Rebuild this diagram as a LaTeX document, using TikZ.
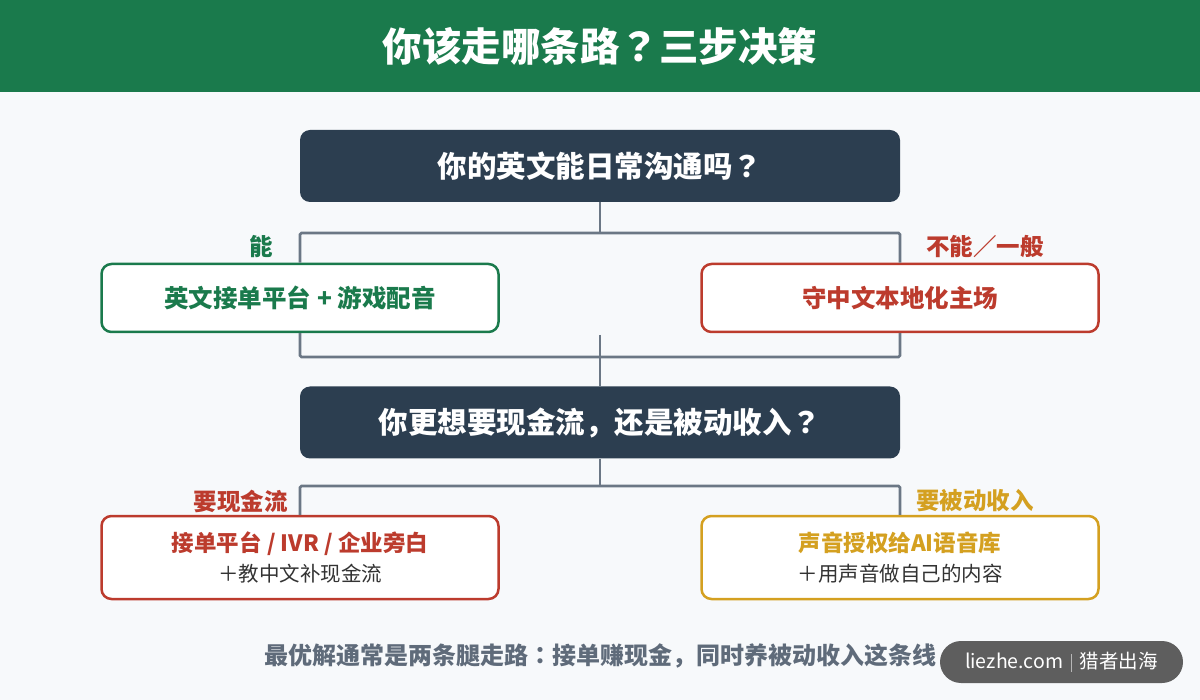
\documentclass[tikz,border=0pt]{standalone}
\usepackage{fontspec}
\setmainfont{Noto Sans CJK SC}
\newfontfamily\jppunct{Noto Sans CJK JP}
\newcommand\qmark{{\jppunct ？}}
\definecolor{hdrgreen}{HTML}{1A7A4C}
\definecolor{navy}{HTML}{2C3E50}
\definecolor{bgpaper}{HTML}{F7F9FB}
\definecolor{lineg}{HTML}{6B7785}
\definecolor{redd}{HTML}{BC3B2D}
\definecolor{amber}{HTML}{D4A020}
\definecolor{inkd}{HTML}{333333}
\definecolor{footg}{HTML}{5F6B7A}
\definecolor{badgeg}{HTML}{5E5E5E}

\begin{document}
\begin{tikzpicture}[x=1pt,y=-1pt,
  conn/.style={draw=lineg,line width=2.6pt,rounded corners=1.5pt},
  qbox/.style={fill=navy,rounded corners=10pt,minimum width=600pt,minimum height=72pt,
    text=white,font=\fontsize{29.5}{34}\selectfont\bfseries},
  abox/.style={draw=#1,fill=white,line width=2.5pt,rounded corners=10pt,
    minimum width=397pt,minimum height=68pt,text=#1,align=center,
    font=\fontsize{24.5}{29}\selectfont\bfseries},
  tag/.style={text=#1,font=\fontsize{23.5}{27}\selectfont\bfseries,inner sep=0pt}]
  \useasboundingbox (0,0) rectangle (1200,700);
  \fill[bgpaper] (0,0) rectangle (1200,700);
  % cabecera
  \fill[hdrgreen] (0,0) rectangle (1200,92);
  \node[text=white,font=\fontsize{39.5}{45}\selectfont\bfseries] (title) at (600,46) {你该走哪条路\qmark 三步决策};
  % primera pregunta
  \node[qbox] (q1) at (600,166) {你的英文能日常沟通吗\qmark};
  \node[abox=hdrgreen] (a1) at (300,298) {英文接单平台 + 游戏配音};
  \node[abox=redd] (b1) at (900,298) {守中文本地化主场};
  \coordinate (s1) at (600,233);
  \draw[conn] (q1.south) -- (s1);
  \draw[conn] (a1.north) |- (s1) -| (b1.north);
  \node[tag=hdrgreen,anchor=east] (ya) at (273,247) {能};
  \node[tag=redd,anchor=west] (no) at (926,247) {不能／一般};
  % se juntan
  \coordinate (m1) at (600,357);
  \coordinate (m0) at (600,335);
  \draw[conn] (a1.south) |- (m1) -| (b1.south);
  % segunda pregunta
  \node[qbox] (q2) at (600,422.5) {你更想要现金流，还是被动收入\qmark};
  \draw[conn] (m0) -- (q2.north);
  \node[abox=redd,minimum height=83pt,font=\fontsize{22.5}{27}\selectfont\bfseries] (c1) at (300,557.5)
    {接单平台 / IVR / 企业旁白\\[3pt]{\fontsize{20.5}{24}\selectfont\mdseries\color{inkd}＋教中文补现金流}};
  \node[abox=amber,minimum height=83pt,font=\fontsize{22.5}{27}\selectfont\bfseries] (d1) at (900,557.5)
    {声音授权给AI语音库\\[3pt]{\fontsize{20.5}{24}\selectfont\mdseries\color{inkd}＋用声音做自己的内容}};
  \coordinate (s2) at (600,486);
  \draw[conn] (q2.south) -- (s2);
  \draw[conn] (c1.north) |- (s2) -| (d1.north);
  \node[tag=redd,anchor=east] (cash) at (288,501) {要现金流};
  \node[tag=amber,anchor=west] (pass) at (916,501) {要被动收入};
  % pie
  \node[text=footg,font=\fontsize{24}{28}\selectfont\bfseries] (foot) at (600,656)
    {最优解通常是两条腿走路{\jppunct ：}接单赚现金，同时养被动收入这条线};
  \node[fill=badgeg,rounded corners=21pt,minimum width=243pt,minimum height=42pt,
    text=white,font=\fontsize{19.5}{22}\selectfont] (badge) at (1061.5,662)
    {liezhe.com\hspace{8pt}\textcolor{white!55!badgeg}{\rule[-3pt]{0.8pt}{18pt}}\hspace{8pt}猎者出海};
\end{tikzpicture}
\end{document}
